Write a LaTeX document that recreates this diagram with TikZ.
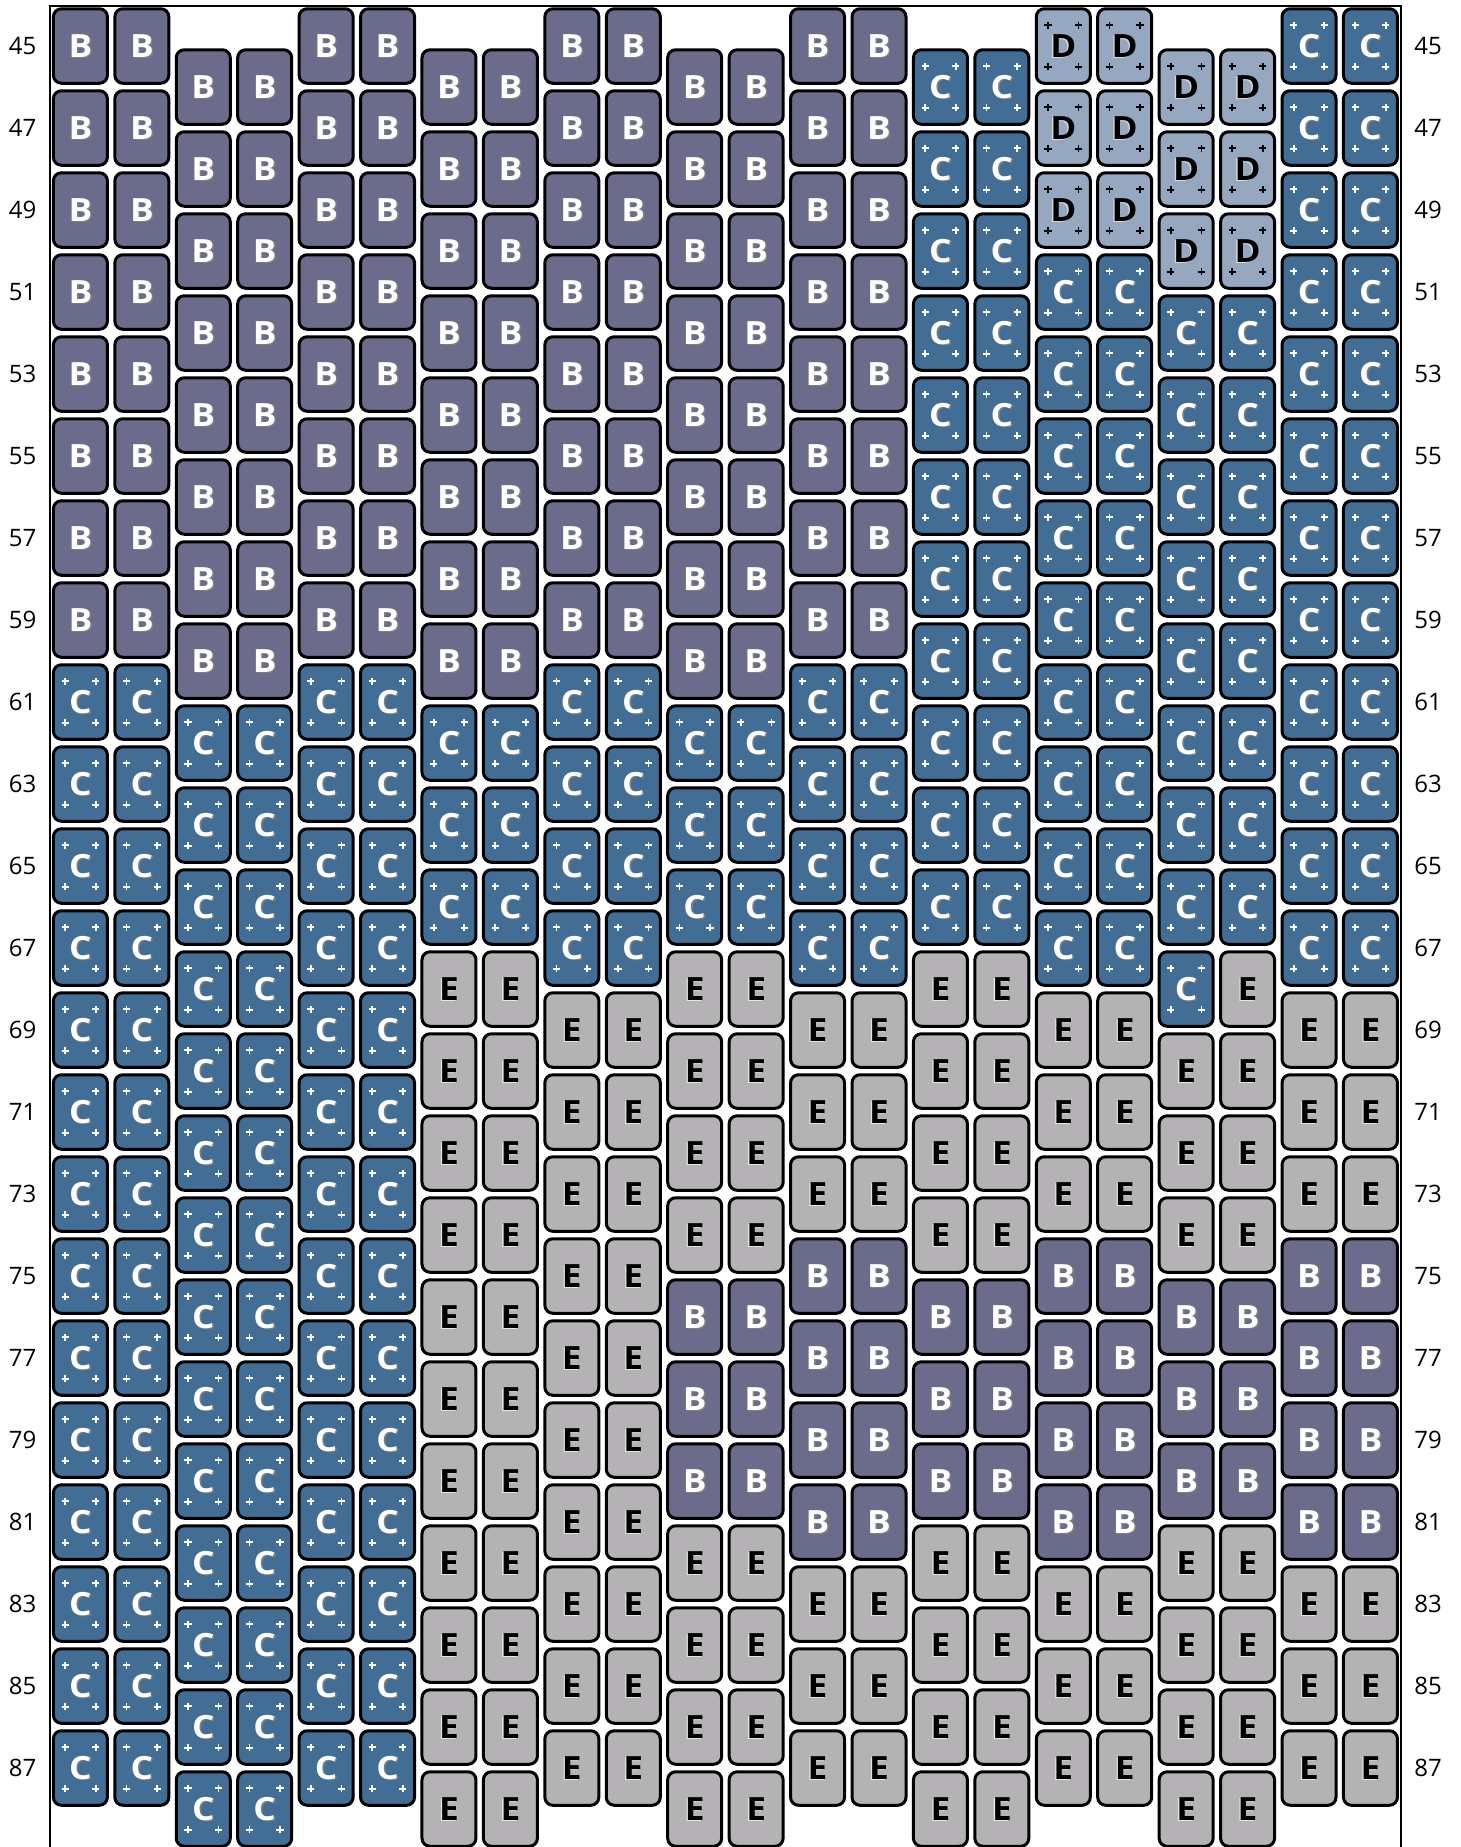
\documentclass[tikz,border=0pt]{standalone}
\usepackage{fontspec}
\usepackage{graphicx}
\setmainfont{Open Sans}
\usetikzlibrary{calc}
\definecolor{beadslate}{HTML}{6B6B8C}
\definecolor{beadsteel}{HTML}{426E96}
\definecolor{beadmist}{HTML}{96A8C0}
\definecolor{beadgrey}{HTML}{B4B2B4}
\newcommand{\beadletter}[1]{\scalebox{1.1}[1]{\makebox[0pt][l]{\kern\shadowdx\raisebox{-1.2pt}[0pt][0pt]{\textcolor{\shadowcol}{#1}}}#1}}

\begin{document}
\begin{tikzpicture}[x=1pt, y=-1pt,
  bead/.style={rectangle, rounded corners=8pt, draw=black, line width=3pt,
    minimum width=54pt, minimum height=74.5pt, inner sep=0pt,
    font=\fontsize{32}{32}\selectfont\bfseries},
  pluses/.style={path picture={
    \foreach \sx in {-15.3,15.3} \foreach \sy in {-20.8,20.8}
      \draw[#1, line width=1.7pt, sharp corners]
        ([shift={(\sx pt,\sy pt)}]path picture bounding box.center)
        +(-3.6pt,0) -- +(3.6pt,0) +(0,-3.6pt) -- +(0,3.6pt);}},
  kindB/.style={fill=beadslate, text=white,
    execute at begin node={\def\shadowcol{black!50}\def\shadowdx{1.4pt}}},
  kindC/.style={fill=beadsteel, text=white, pluses=white,
    execute at begin node={\def\shadowcol{black!50}\def\shadowdx{1.4pt}}},
  kindD/.style={fill=beadmist, text=black, pluses=black,
    execute at begin node={\def\shadowcol{white!85!black}\def\shadowdx{-1.2pt}}},
  kindE/.style={fill=beadgrey, text=black,
    execute at begin node={\def\shadowcol{white!90!black}\def\shadowdx{-1.2pt}}},
  rowlabel/.style={font=\fontsize{24}{24}\selectfont, inner sep=0pt}]
  \useasboundingbox (0,0) rectangle (1461,1847);
  \clip (0,0) rectangle (1461,1847);
  \fill[white] (0,0) rectangle (1461,1847);
  \draw[line width=2pt] (50,1870) -- (50,6) -- (1401,6) -- (1401,1870);

  % pair/first/last/kind
  \foreach \pair/\from/\to/\kind in {
      0/0/7/B, 0/8/21/C,
      1/0/7/B, 1/8/21/C,
      2/0/7/B, 2/8/21/C,
      3/0/7/B, 3/8/10/C, 3/11/21/E,
      4/0/7/B, 4/8/11/C, 4/12/21/E,
      5/0/7/B, 5/8/10/C, 5/11/14/E, 5/15/17/B, 5/18/21/E,
      6/0/7/B, 6/8/11/C, 6/12/14/E, 6/15/18/B, 6/19/21/E,
      7/0/10/C, 7/11/14/E, 7/15/17/B, 7/18/21/E,
      8/0/2/D, 8/3/11/C, 8/12/14/E, 8/15/18/B, 8/19/21/E,
      9/0/2/D, 9/3/10/C, 9/12/14/E, 9/15/17/B, 9/18/21/E,
      10/0/11/C, 10/12/14/E, 10/15/18/B, 10/19/21/E}
    \foreach \side in {0,1}
      \foreach \i in {\from,...,\to} {
        \pgfmathtruncatemacro\col{2*\pair+\side}
        \pgfmathsetmacro\yy{46+82*\i+41*mod(\pair,2)}
        \node[bead, kind\kind] (b\col-\i) at ({80.4+61.43*\col},\yy) {\beadletter{\kind}};
      }
  \foreach \col/\i/\kind in {18/11/C, 19/11/E}
    \node[bead, kind\kind] (b\col-\i) at ({80.4+61.43*\col},{46+82*\i+41}) {\beadletter{\kind}};

  \foreach \n [count=\k from 0] in {45,47,...,87} {
    \node[rowlabel] (left\n) at (22.5,{46+82*\k}) {\n};
    \node[rowlabel] (right\n) at (1428,{46+82*\k}) {\n};
  }
\end{tikzpicture}
\end{document}
